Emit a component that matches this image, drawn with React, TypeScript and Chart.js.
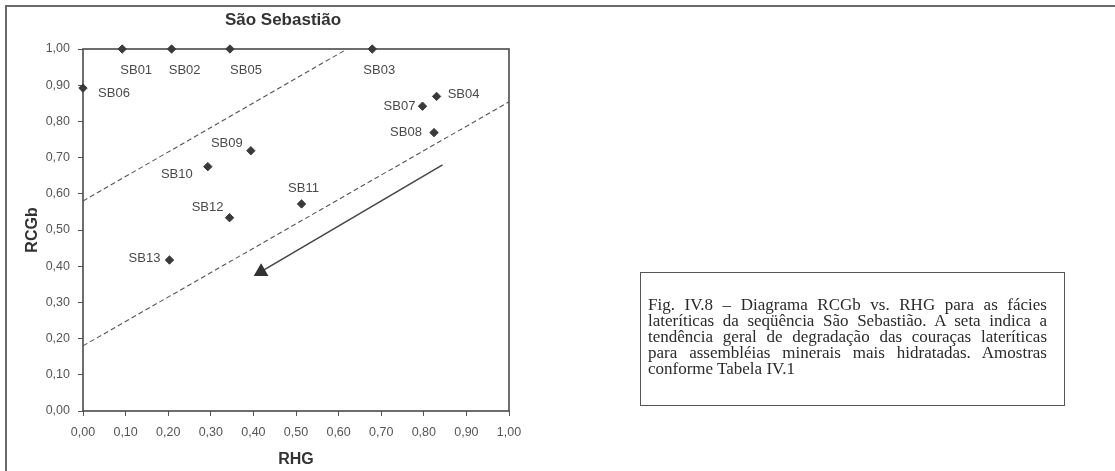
import { useEffect, useRef } from "react";
import { Chart, registerables } from "chart.js";

Chart.register(...registerables);

// ---- data ----
const CHART_TITLE = "São Sebastião";
const X_TITLE = "RHG";
const Y_TITLE = "RCGb";
const SAMPLE_NAMES = ["SB01", "SB02", "SB05", "SB03", "SB06", "SB04", "SB07", "SB08", "SB09", "SB10", "SB11", "SB12", "SB13"];
const RHG_VALUES = [0.092, 0.208, 0.345, 0.679, 0.0, 0.83, 0.797, 0.824, 0.394, 0.293, 0.513, 0.344, 0.203];
const RCGB_VALUES = [1.0, 1.0, 1.0, 1.0, 0.892, 0.869, 0.842, 0.769, 0.719, 0.675, 0.572, 0.534, 0.417];
const UPPER_LIMIT_X = [0.0, 0.62];
const UPPER_LIMIT_Y = [0.58, 1.0];
const LOWER_LIMIT_X = [0.0, 1.0];
const LOWER_LIMIT_Y = [0.18, 0.854];
const ARROW_X = [0.844, 0.418];
const ARROW_Y = [0.68, 0.385];
const AXIS_MIN = 0;
const AXIS_MAX = 1;
const AXIS_STEP = 0.1;
const CAPTION =
  "Fig. IV.8 – Diagrama RCGb vs. RHG para as fácies lateríticas da seqüência São Sebastião. A seta indica a tendência geral de degradação das couraças lateríticas para assembléias minerais mais hidratadas. Amostras conforme Tabela IV.1";

// ---- label placement (style, pixel offsets from each marker) ----
const LABEL_OFFSETS: [number, number][] = [
  [14, 21], [13, 21], [16, 21], [7, 21], [31, 5], [27, -2], [-23, 0], [-28, 0], [-24, -7], [-31, 8], [2, -16], [-22, -10], [-25, -2],
];

const INK = "#3a3a3a";
const TEXT = "#4a4a4a";
const SANS = "'Liberation Sans', Arial, Helvetica, sans-serif";

const fmt = (v: number) => Number(v).toFixed(2).replace(".", ",");

export default function App() {
  const canvasRef = useRef<HTMLCanvasElement | null>(null);

  useEffect(() => {
    const canvas = canvasRef.current;
    if (!canvas) return;

    const frameBox = {
      id: "frameBox",
      beforeDatasetsDraw(chart: any) {
        const { ctx, chartArea } = chart;
        ctx.save();
        ctx.strokeStyle = "#4a4a4a";
        ctx.lineWidth = 1.6;
        ctx.strokeRect(chartArea.left, chartArea.top, chartArea.right - chartArea.left, chartArea.bottom - chartArea.top);
        ctx.restore();
      },
    };

    const titleAndLabels = {
      id: "titleAndLabels",
      afterDatasetsDraw(chart: any) {
        const { ctx } = chart;
        ctx.save();
        ctx.fillStyle = "#333";
        ctx.font = `bold 17px ${SANS}`;
        ctx.textAlign = "center";
        ctx.textBaseline = "middle";
        ctx.fillText(CHART_TITLE, 283, 20);

        const meta = chart.getDatasetMeta(0);
        ctx.font = `13px ${SANS}`;
        ctx.fillStyle = TEXT;
        meta.data.forEach((pt: any, i: number) => {
          const [dx, dy] = LABEL_OFFSETS[i] || [0, 0];
          ctx.fillText(SAMPLE_NAMES[i], pt.x + dx, pt.y + dy);
        });
        ctx.restore();
      },
    };

    const chart = new Chart(canvas, {
      type: "scatter",
      data: {
        datasets: [
          {
            label: "Amostras",
            data: RHG_VALUES.map((x, i) => ({ x, y: RCGB_VALUES[i] })),
            pointStyle: "rectRot",
            pointRadius: 4.2,
            backgroundColor: INK,
            borderColor: INK,
            borderWidth: 1,
            clip: false as any,
          },
          {
            label: "upper",
            data: UPPER_LIMIT_X.map((x, i) => ({ x, y: UPPER_LIMIT_Y[i] })),
            showLine: true,
            pointRadius: 0,
            borderColor: "#555",
            borderWidth: 1.1,
            borderDash: [5, 3],
          },
          {
            label: "lower",
            data: LOWER_LIMIT_X.map((x, i) => ({ x, y: LOWER_LIMIT_Y[i] })),
            showLine: true,
            pointRadius: 0,
            borderColor: "#555",
            borderWidth: 1.1,
            borderDash: [5, 3],
          },
          {
            label: "arrow",
            data: ARROW_X.map((x, i) => ({ x, y: ARROW_Y[i] })),
            showLine: true,
            pointRadius: [0, 7],
            pointStyle: "triangle",
            backgroundColor: "#333",
            pointBackgroundColor: "#333",
            pointBorderColor: "#333",
            borderColor: "#444",
            borderWidth: 1.5,
          },
        ],
      },
      options: {
        responsive: false,
        animation: false,
        events: [],
        layout: { padding: { top: 49, right: 606, left: 0, bottom: 0 } },
        plugins: {
          legend: { display: false },
          tooltip: { enabled: false },
          title: { display: false },
        },
        scales: {
          x: {
            type: "linear",
            min: AXIS_MIN,
            max: AXIS_MAX,
            ticks: {
              stepSize: AXIS_STEP,
              color: "#555",
              font: { family: SANS, size: 12.5 },
              padding: 9,
              callback: (v: any) => fmt(v),
              maxRotation: 0,
              autoSkip: false,
            },
            grid: { drawOnChartArea: false, drawTicks: true, tickLength: 5, color: "#555" },
            border: { display: false },
            title: {
              display: true,
              text: X_TITLE,
              color: "#333",
              font: { family: SANS, size: 16, weight: "bold" },
              padding: { top: 0, bottom: 1.4 },
            },
            afterFit: (s: any) => {
              s.height = 60;
              s.paddingLeft = 0;
              s.paddingRight = 0;
            },
          },
          y: {
            type: "linear",
            min: AXIS_MIN,
            max: AXIS_MAX,
            ticks: {
              stepSize: AXIS_STEP,
              color: "#555",
              font: { family: SANS, size: 12.5 },
              padding: 8,
              callback: (v: any) => fmt(v),
              autoSkip: false,
            },
            grid: { drawOnChartArea: false, drawTicks: true, tickLength: 5, color: "#555" },
            border: { display: false },
            title: {
              display: true,
              text: Y_TITLE,
              color: "#333",
              font: { family: SANS, size: 16, weight: "bold" },
              padding: { top: 23, bottom: 0 },
            },
            afterFit: (s: any) => {
              s.width = 83;
              s.paddingTop = 0;
              s.paddingBottom = 0;
            },
          },
        },
      },
      plugins: [frameBox, titleAndLabels],
    } as any);

    return () => chart.destroy();
  }, []);

  return (
    <div
      style={{
        position: "fixed",
        left: 0,
        top: 0,
        width: 1115,
        height: 471,
        background: "#fff",
        overflow: "hidden",
      }}
    >
      <canvas ref={canvasRef} width={1115} height={471} style={{ position: "absolute", left: 0, top: 0, width: 1115, height: 471 }} />
      <div style={{ position: "absolute", left: 6, top: 5, width: 1109, height: 2, background: "#6a6a6a" }} />
      <div style={{ position: "absolute", left: 5, top: 5, width: 2, height: 466, background: "#6a6a6a" }} />
      <div
        style={{
          position: "absolute",
          left: 640,
          top: 272,
          width: 425,
          height: 134,
          boxSizing: "border-box",
          border: "1.5px solid #555",
          padding: "24px 17px 0 7px",
          fontFamily: "'Liberation Serif', 'Times New Roman', serif",
          fontSize: "17px",
          lineHeight: "16px",
          color: "#2a2a2a",
          textAlign: "justify",
        }}
      >
        {CAPTION}
      </div>
    </div>
  );
}
